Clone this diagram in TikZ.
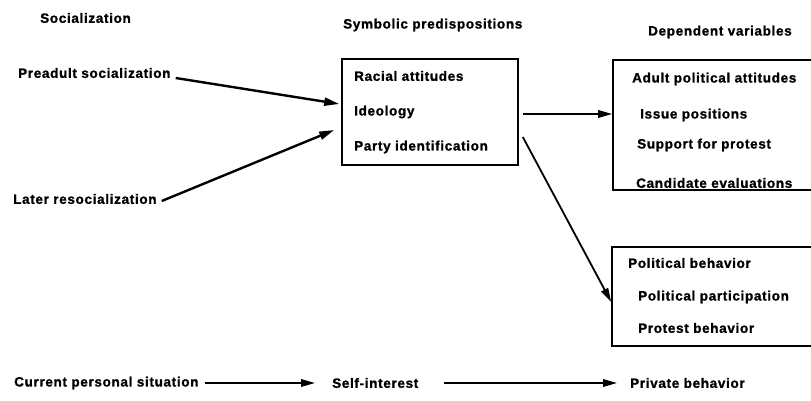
\documentclass[tikz,border=0pt]{standalone}
\usepackage{fontspec}
\setmainfont{Liberation Sans}[LetterSpace=5,BoldFeatures={FakeBold=1.2}]
\usetikzlibrary{arrows.meta}
\begin{document}
\begin{tikzpicture}[x=1pt,y=-1pt,
  lbl/.style={anchor=west,inner sep=0pt,font=\fontsize{13.5}{15}\selectfont\bfseries},
  box/.style={draw,line width=1.6pt,inner sep=0pt},
  arrL/.style={line width=2.4pt,-{Triangle[length=15pt,width=8pt]}},
  arrR/.style={line width=1.8pt,-{Triangle[length=14pt,width=7.5pt]}},
  ]
\useasboundingbox (0,0) rectangle (811,401);
\clip (0,0) rectangle (811,401);
% boxes
\node[box,minimum width=176pt,minimum height=106pt] (b1) at (430,112) {};
\node[box,minimum width=217pt,minimum height=130pt] (b2) at (721.5,125) {};
\node[box,minimum width=218pt,minimum height=99pt] (b3) at (721,296.5) {};
% headers
\node[lbl] (h1) at (40,18) {Socialization};
\node[lbl] (h2) at (343,25) {Symbolic predispositions};
\node[lbl] (h3) at (648,32) {Dependent variables};
% left
\node[lbl] (pre) at (18,73) {Preadult socialization};
\node[lbl] (later) at (13,199) {Later resocialization};
% box 1
\node[lbl] (r1) at (354,76) {Racial attitudes};
\node[lbl] (r2) at (354,112) {Ideology};
\node[lbl] (r3) at (354,147) {Party identification};
% box 2
\node[lbl] (d1) at (632,79) {Adult political attitudes};
\node[lbl] (d2) at (640,115) {Issue positions};
\node[lbl] (d3) at (637,145) {Support for protest};
\node[lbl] (d4) at (636,183) {Candidate evaluations};
% box 3
\node[lbl] (p1) at (628,263) {Political behavior};
\node[lbl] (p2) at (638,297) {Political participation};
\node[lbl] (p3) at (638,328) {Protest behavior};
% bottom
\node[lbl] (cur) at (14,383) {Current personal situation};
\node[lbl] (self) at (332,383) {Self-interest};
\node[lbl] (priv) at (630,383) {Private behavior};
% arrows
\draw[arrL] ([xshift=5pt,yshift=-5pt]pre.east) -- ([xshift=-2pt,yshift=8pt]b1.west);
\draw[arrL] ([xshift=5pt,yshift=-2pt]later.east) -- ([xshift=-7pt,yshift=-18pt]b1.west);
\draw[arrR] ([xshift=4pt,yshift=-2pt]b1.east) -- ([yshift=11pt]b2.west);
\draw[arrR] ([xshift=4pt,yshift=-25pt]b1.east) -- ([yshift=-5.5pt]b3.west);
\draw[arrR] ([xshift=6pt]cur.east) -- ([xshift=-17pt]self.west);
\draw[arrR] ([xshift=25pt]self.east) -- ([xshift=-13pt]priv.west);
\end{tikzpicture}
\end{document}
